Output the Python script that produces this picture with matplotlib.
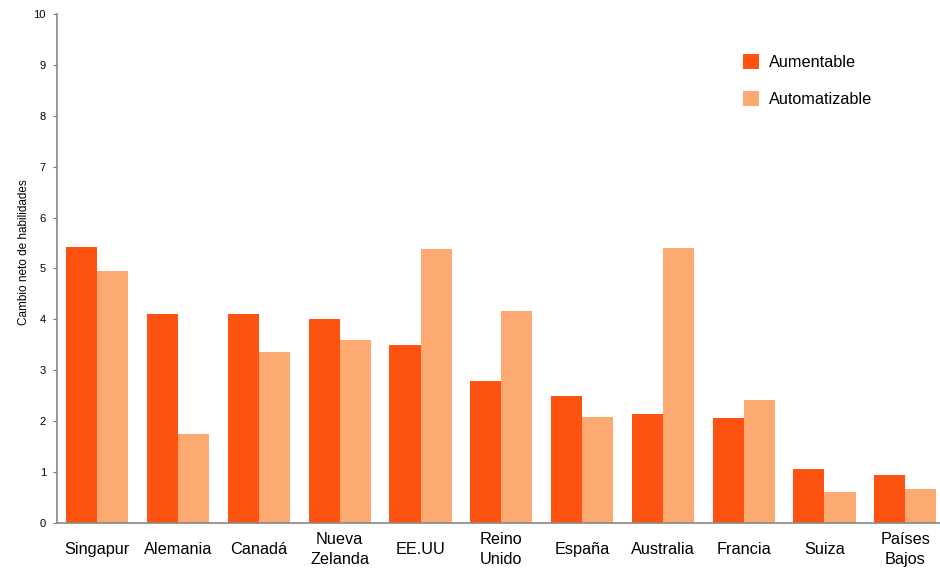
import matplotlib.pyplot as plt
import numpy as np

plt.rcParams['font.family'] = ['Liberation Sans', 'DejaVu Sans']

paises = ['Singapur', 'Alemania', 'Canadá', 'Nueva\nZelanda', 'EE.UU', 'Reino\nUnido',
          'España', 'Australia', 'Francia', 'Suiza', 'Países\nBajos']
aumentable = [5.42, 4.11, 4.11, 4.01, 3.50, 2.78, 2.49, 2.15, 2.07, 1.06, 0.94]
automatizable = [4.96, 1.74, 3.36, 3.59, 5.38, 4.16, 2.08, 5.40, 2.42, 0.61, 0.67]

fig = plt.figure(figsize=(9.4, 5.74), dpi=100)
ax = fig.add_axes([0.0606, 0.0889, 0.9394, 0.8867])

x = np.arange(len(paises))
w = 0.385
ax.bar(x - w / 2, aumentable, w, color='#fe5210', label='Aumentable')
ax.bar(x + w / 2, automatizable, w, color='#fdaa72', label='Automatizable')

ax.set_xlim(-0.5, 10.43)
ax.set_ylim(0, 10)
ax.set_yticks(range(0, 11))
ax.set_xticks(x)
ax.set_xticklabels(paises, fontsize=11.7, va='center', linespacing=1.4)
ax.tick_params(axis='x', length=0, pad=19)
ax.tick_params(axis='y', labelsize=8, length=3, color='#777777', pad=5)

for s in ['top', 'right']:
    ax.spines[s].set_visible(False)
for s in ['left', 'bottom']:
    ax.spines[s].set_color('#888888')
    ax.spines[s].set_linewidth(1.2)

ax.set_ylabel('Cambio neto de habilidades', fontsize=8.5)
ax.yaxis.set_label_coords(-0.031, 0.532)

ax.legend(loc='upper right', bbox_to_anchor=(0.94, 0.95), frameon=False, fontsize=11.7,
          handlelength=1.0, handleheight=1.0, labelspacing=1.3, handletextpad=0.6)

plt.savefig('out.png')
